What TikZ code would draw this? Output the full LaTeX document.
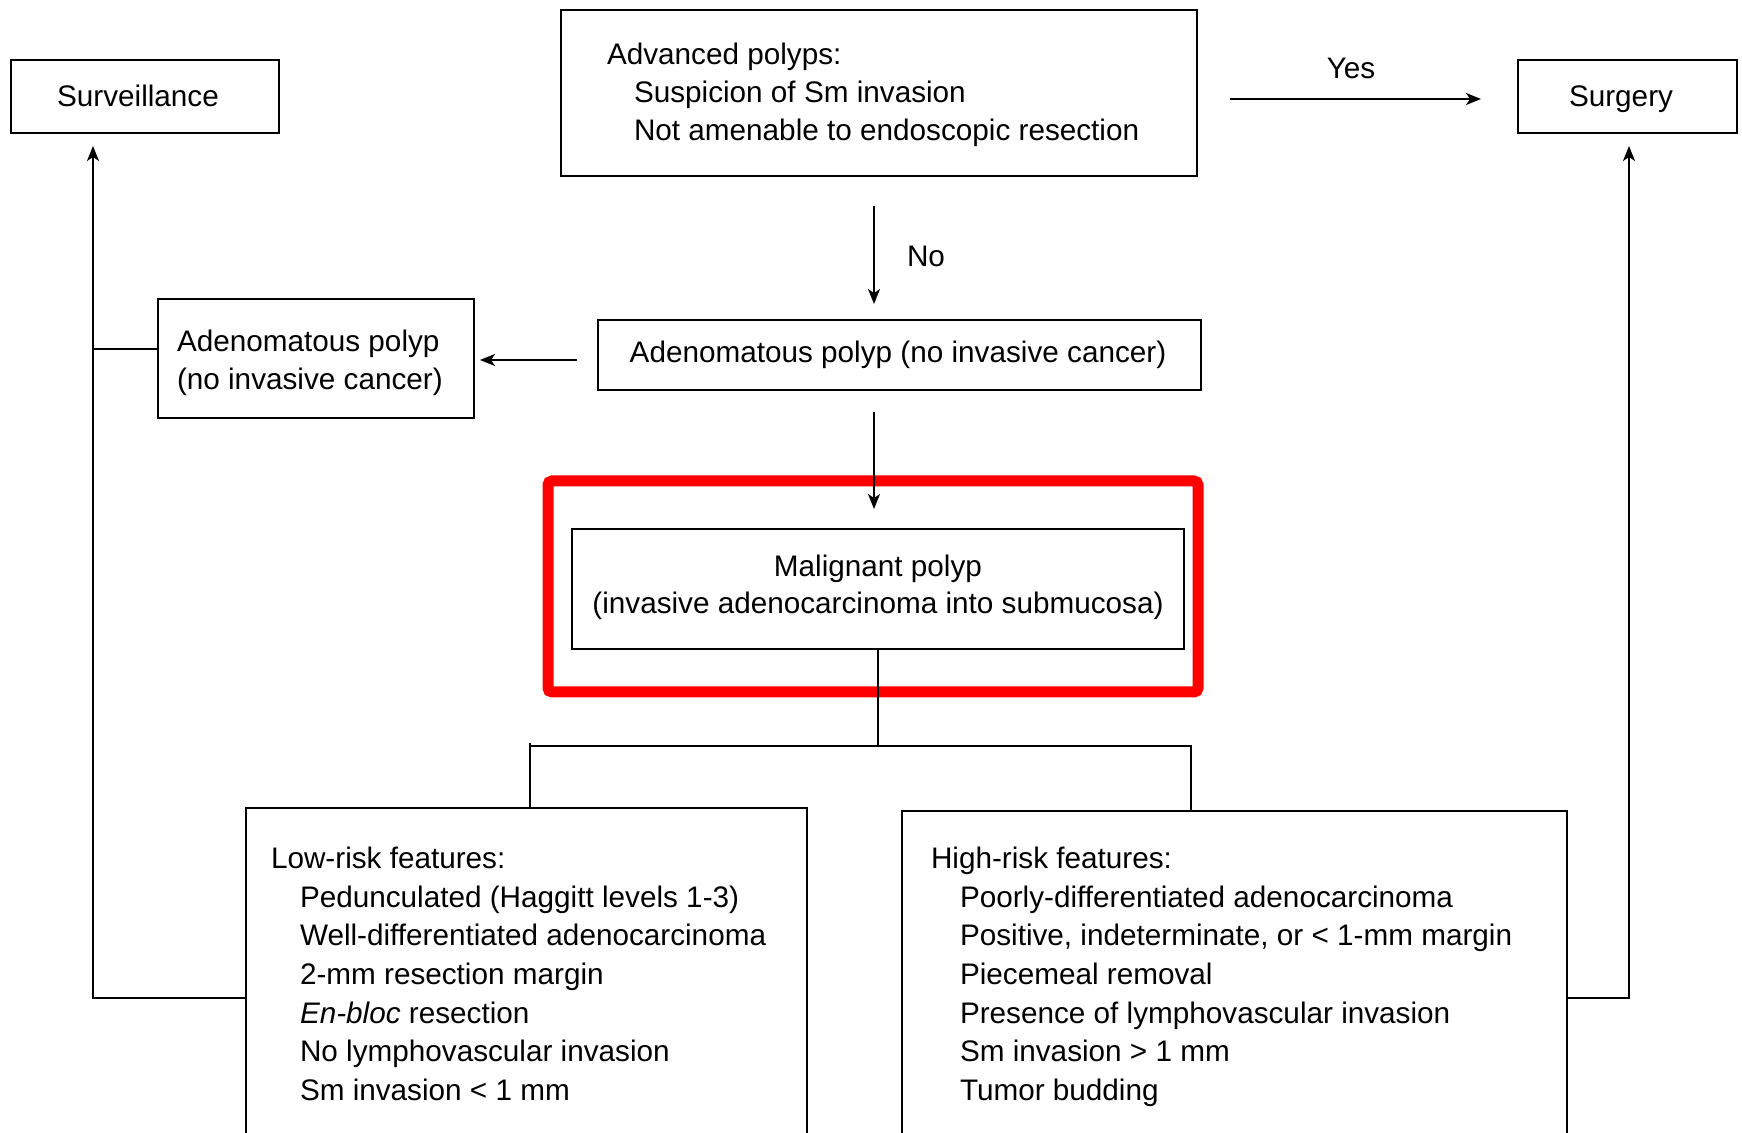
\documentclass[tikz,border=0pt]{standalone}
\usepackage{fontspec}
\setmainfont{Liberation Sans}
\usetikzlibrary{arrows.meta,calc}
\begin{document}
\begin{tikzpicture}[x=0.5pt,y=-0.5pt,
  box/.style={draw,line width=1.1pt,inner sep=0pt,outer sep=0pt},
  txt/.style={inner sep=0pt,outer sep=0pt,font=\fontsize{14.85pt}{18pt}\selectfont},
  conn/.style={line width=1pt},
  arr/.style={line width=1pt,-{Stealth[length=7.5pt,width=6pt,inset=2pt]}}]
\useasboundingbox (0,0) rectangle (1742,1133);
\begin{scope}
\clip (0,0) rectangle (1742,1133);
% highlight
\node[draw=red,line width=5.5pt,rounded corners=2pt,inner sep=0pt,outer sep=0pt,
  minimum width=325pt,minimum height=105.5pt] (hl) at (873,586.5) {};
% boxes
\node[box,minimum width=134pt,minimum height=36.5pt] (surv) at (145,96.5) {};
\node[box,minimum width=318pt,minimum height=83pt] (adv) at (879,93) {};
\node[box,minimum width=109.5pt,minimum height=36.5pt] (surg) at (1627.5,96.5) {};
\node[box,minimum width=301.5pt,minimum height=35pt] (adm) at (899.5,355) {};
\node[box,minimum width=158pt,minimum height=59.5pt] (ads) at (316,358.5) {};
\node[box,minimum width=306pt,minimum height=60pt] (mal) at (878,589) {};
\node[box,minimum width=280.5pt,minimum height=166pt] (low) at (526.5,974) {};
\node[box,minimum width=332.5pt,minimum height=164.5pt] (high) at (1234.5,975.5) {};
% texts
\node[txt,anchor=base] (survt) at (138,107) {Surveillance};
\node[txt,anchor=base] (surgt) at (1621,107) {Surgery};
\node[txt,anchor=base] (yes) at (1351,79) {Yes};
\node[txt,anchor=base west] (no) at (907,267) {No};
\node[txt,anchor=base west] (adv1) at (607,65) {Advanced polyps:};
\node[txt,anchor=base west] (adv2) at (634,103) {Suspicion of Sm invasion};
\node[txt,anchor=base west] (adv3) at (634,141) {Not amenable to endoscopic resection};
\node[txt,anchor=base] (admt) at (898,363) {Adenomatous polyp (no invasive cancer)};
\node[txt,anchor=base west] (ads1) at (177,352) {Adenomatous polyp};
\node[txt,anchor=base west] (ads2) at (177,390) {(no invasive cancer)};
\node[txt,anchor=base] (mal1) at (878,577) {Malignant polyp};
\node[txt,anchor=base] (mal2) at (878,614) {(invasive adenocarcinoma into submucosa)};
\node[txt,anchor=base west] (low0) at (271,869) {Low-risk features:};
\node[txt,anchor=base west] (low1) at (300,907.5) {Pedunculated (Haggitt levels 1-3)};
\node[txt,anchor=base west] (low2) at (300,946) {Well-differentiated adenocarcinoma};
\node[txt,anchor=base west] (low3) at (300,984.5) {2-mm resection margin};
\node[txt,anchor=base west] (low4) at (300,1023) {\textit{En-bloc} resection};
\node[txt,anchor=base west] (low5) at (300,1061.5) {No lymphovascular invasion};
\node[txt,anchor=base west] (low6) at (300,1100) {Sm invasion < 1 mm};
\node[txt,anchor=base west] (high0) at (931,869) {High-risk features:};
\node[txt,anchor=base west] (high1) at (960,907.5) {Poorly-differentiated adenocarcinoma};
\node[txt,anchor=base west] (high2) at (960,946) {Positive, indeterminate, or < 1-mm margin};
\node[txt,anchor=base west] (high3) at (960,984.5) {Piecemeal removal};
\node[txt,anchor=base west] (high4) at (960,1023) {Presence of lymphovascular invasion};
\node[txt,anchor=base west] (high5) at (960,1061.5) {Sm invasion > 1 mm};
\node[txt,anchor=base west] (high6) at (960,1100) {Tumor budding};
% connectors
\draw[arr] ($(adv.east)+(33,6)$) -- ($(surg.west |- adv.east)+(-37,6)$);
\draw[arr] ($(adv.south)+(-5,30)$) -- ($(adm.north -| adv.south)+(-5,-16)$);
\draw[arr] ($(adm.west)+(-21,5)$) -- ($(ads.east |- adm.west)+(6,5)$);
\draw[arr] ($(adm.south)+(-25.5,22)$) -- ($(mal.north -| adm.south)+(-25.5,-20)$);
\coordinate (bl) at (530,746);
\coordinate (br) at (1191,746);
\draw[conn] (mal.south) -- (mal.south |- bl);
\draw[conn] (low.north -| bl) -- ($(bl)+(0,-3)$) (bl) -- (br) -- (br |- high.north);
\coordinate (svb) at (93,998);
\coordinate (sgb) at (1629,998);
\draw[arr] (low.west |- svb) -- (svb) -- ($(surv.south -| svb)+(0,13)$);
\draw[conn] ($(ads.west)+(0,-9.5)$) -- ($(svb |- ads.west)+(0,-9.5)$);
\draw[arr] (high.east |- sgb) -- (sgb) -- ($(surg.south -| sgb)+(0,13)$);
\end{scope}
\end{tikzpicture}
\end{document}
